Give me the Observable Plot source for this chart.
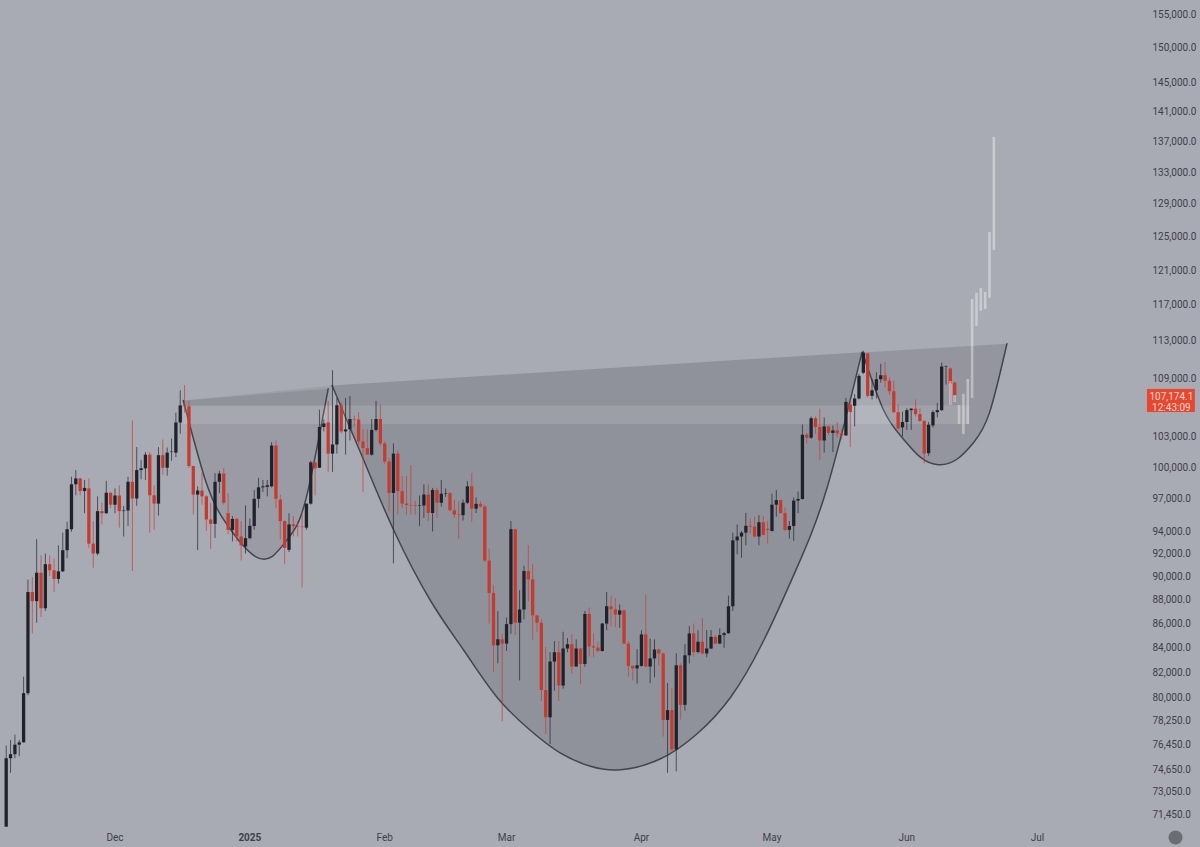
<!DOCTYPE html>
<html><head><meta charset="utf-8">
<style>html,body{margin:0;padding:0;background:#a9abb4}svg{display:block}</style>
<script src="https://cdn.jsdelivr.net/npm/d3@7"></script>
<script src="https://cdn.jsdelivr.net/npm/@observablehq/plot@0.6"></script>
</head><body><div id="chart"></div>
<script>
const firstBar = Date.UTC(2024, 10, 6);
const opens = [
70620,75450,75750,76450,76620,80350,88610,87830,90280,87230,
91030,90500,89740,90400,92270,94160,98340,98900,97700,97950,
92850,91970,95820,95630,97540,96420,97280,95820,95880,98580,
97000,99700,99870,101200,97300,96520,101150,99930,101450,101400,
104400,106130,106050,100100,97370,97750,97200,95050,94650,98580,
99370,95630,94100,95100,93500,92600,93350,94450,96970,98050,
98100,98150,102100,96900,94900,92300,94600,94450,94400,94300,
96520,100450,99930,103950,104400,101300,102200,106150,103500,103700,
104750,104700,102500,101850,101200,103650,104750,102300,100530,97520,
101300,97700,96520,96400,96350,96300,96350,97370,95650,97800,
96600,97450,97500,95900,95500,95450,96600,98150,96050,96500,
96250,91350,88530,84160,84650,84300,85900,94160,86020,87130,
90430,89700,86630,86020,80600,78500,82850,83600,80950,83900,
84250,82450,83900,82650,86750,84080,83980,83700,85950,87400,
87150,86700,87050,84300,82500,82300,82500,85050,82450,83100,
83820,83500,78300,79050,76100,82550,79450,83350,85130,83620,
84450,83500,83900,84850,84300,85000,85150,87400,93150,93500,
93850,94470,94400,93500,94800,94200,94000,96420,96850,95630,
94100,94450,96800,96950,103170,102870,104830,103950,102600,104000,
103350,103600,103300,103100,106230,106100,106850,109540,111600,107120,
107700,108860,109280,108700,107600,105450,103900,104450,105650,105800,
105250,104550,101350,104100,105450,105650,110150,110000,108500];
const highs = [
76380,76800,77200,76800,81650,89680,89910,93250,91820,91970,
91820,91550,92700,93850,94850,99070,99700,98950,98750,98900,
94900,97200,96600,98670,97580,97950,98250,96320,99070,104600,
101950,100680,101450,101450,98250,101950,102700,101900,102800,105400,
107700,108250,106600,100100,98150,99500,97300,96600,99400,99630,
99870,97500,95350,95200,94900,96350,95150,97800,98950,98750,
98750,102430,102600,97350,94950,95630,95350,94900,95800,96520,
100600,100600,105700,104700,106600,109820,106900,106430,106900,107100,
105100,105450,103700,103700,104750,106600,106250,102500,100900,102300,
101630,99130,99130,100200,96800,97280,98340,98340,98000,98000,
98750,97950,97600,96900,96750,96900,98650,99430,97100,96750,
96400,92400,89200,87000,85100,86450,94900,94200,88780,90880,
92750,91050,86700,86300,84030,83600,84500,84500,85270,84750,
85050,84650,83950,87000,87300,85150,84500,86000,88610,88300,
88100,87550,87150,84500,82550,83850,85400,88400,84700,84650,
83900,83550,81150,80750,83500,82700,84250,85750,85950,85400,
86400,85400,85400,85000,85550,85250,88300,93850,94600,94000,
95650,95150,95300,95450,95350,94900,97450,97800,96900,96150,
94900,97100,97650,104200,103330,105000,105000,105800,104900,104100,
104100,104400,103700,106900,106750,107300,109420,111900,111700,108860,
109600,110500,110700,109030,108700,106230,105500,105850,105850,106750,
105850,104650,104450,105650,106400,110620,110300,110100,108600];
const lows = [
70620,74400,75450,75600,76620,80200,85130,86020,86500,87000,
90000,88610,89350,90350,91550,93930,97300,97300,95630,92480,
90720,91820,94600,95570,96130,95630,94300,93500,94450,90430,
96320,98820,98750,93850,94100,95400,99230,99160,100600,100960,
103270,105400,99900,95500,92280,96420,94000,92380,93370,97500,
96420,93700,93050,93050,91350,91970,93250,94100,96130,97600,
97200,98050,96130,93250,91030,92100,93500,93500,89000,94100,
96420,97280,99900,103500,99530,99530,101300,103300,101200,102600,
104000,102200,97600,101200,101100,103500,102100,100300,95800,91100,
95500,96130,95500,95500,95500,94450,95200,94900,93950,95200,
96250,97150,95800,95200,93300,94950,96500,94850,95650,96150,
91200,85950,82030,82700,78200,83700,85100,85000,81350,86300,
87830,84620,85270,79750,77250,76500,80550,79750,80700,83600,
81900,82450,81050,82450,83250,83200,83550,83650,85400,85700,
85650,85600,84250,81650,81350,81100,82450,82400,81150,81600,
82550,77050,74400,75950,74500,78330,79000,82700,83250,83500,
83450,83200,83850,84250,84250,83950,85100,87000,91900,91600,
92700,93750,93400,92700,93600,92850,93950,95300,95600,94000,
93300,93100,95650,96900,102300,102750,103270,100680,101400,103150,
101450,102900,102700,103050,101950,104000,106750,109400,106950,106750,
106850,108500,108000,107230,105350,103650,103000,103650,103650,105000,
104450,100350,101100,103900,104900,105580,108300,106250,106600];
const closes = [
75450,75750,76450,76620,80350,88610,87830,90280,87230,91030,
90500,89740,90400,92270,94160,98340,98900,97700,98000,92850,
91970,95820,95630,97540,96420,97280,95820,95880,98580,97000,
99700,99870,101200,97300,96520,101150,99930,101400,101500,104400,
106130,106050,100100,97370,97750,97200,95050,94650,98580,99370,
96600,94100,95100,93500,92700,93350,94470,96970,98050,98150,
98250,102100,96970,94900,92480,94600,94450,94400,94350,96520,
100450,99870,103950,104300,101300,102200,106150,103500,103700,104750,
104700,102500,101850,101200,103650,104750,102300,100530,97520,101300,
97700,96520,96400,96350,96300,96350,97370,95650,97800,96600,
97450,97500,95900,95500,95450,96600,98150,96050,96500,96250,
91350,88530,84160,84650,84300,85900,94160,86020,87130,90430,
89700,86630,86020,80600,78500,82850,83600,80950,83900,84250,
82450,83900,82650,86750,84080,83980,83700,85950,87400,87150,
86700,87050,84300,82500,82300,82550,85050,82450,83100,83820,
83500,78300,79050,76100,82550,79450,83350,85130,83620,84450,
83500,83900,84850,84300,85000,85150,87400,93150,93500,93850,
94470,94400,93500,94800,93650,94100,96420,96850,95630,94100,
94450,96800,96950,103170,102870,104830,103950,102600,104000,103350,
103600,103300,103100,106500,105450,106850,109210,111700,107120,107700,
108860,109280,108700,107600,105450,103800,104450,105650,105800,105250,
104550,101300,104170,105450,105650,110200,110200,108400,107170];

const ghostBars = [217,218,219,220,221,222,223,224,225,226,227];
const ghostLows = [106180,106490,104250,103240,104250,106900,114610,116320,116510,117760,123350];
const ghostHighs = [108670,107210,106180,107320,108880,117640,118360,118900,118440,125520,137600];

const cup1Bars = [40.7,45.8,49.6,53.46,57.3,61.1,65.0,68.8,74.0];
const cup1Prices = [106690,98750,95310,93180,91750,91750,93480,96860,107910];
const cup2Bars = [74.9,82.2,89.1,97.5,105.2,112.8,120.5,127.4,134.3,141.2,150.4,158.8,166.5,174.1,181.8,188.7,196.7];
const cup2Prices = [108250,100680,94090,87930,83780,80080,77540,75860,74900,74650,75450,77300,80080,84590,90810,98110,111800];
const cup3Bars = [196.8,201.7,206,210.1,214.3,218.5,222.4,226,230];
const cup3Prices = [111760,105670,102900,101000,100260,100800,102480,105450,112710];

const zoneBars = [40.7,221.5];
const zonePrices = [104250,106130];
const capBars = [40.7,74.9,74.9,40.7];
const capPrices = [106690,108250,106130,106130];

const priceTicks = [155000,150000,145000,141000,137000,133000,129000,125000,121000,117000,113000,109000,103000,100000,97000,94000,92000,90000,88000,86000,84000,82000,80000,78250,76450,74650,73050,71450];
const monthTicks = ["2024-12-01","2025-02-01","2025-03-01","2025-04-01","2025-05-01","2025-06-01","2025-07-01"];
const yearTicks = ["2025-01-01"];
const badgeBars = [262.3,273.3];
const badgePrices = [105460,107840];
const badgeTextBar = 267.8;
const badgeLines = [["107,174.1",107110],["12:43:09",105975]];

const barDate = n => new Date(firstBar + n * 864e5);
const candles = opens.map((o,i)=>({date:barDate(i),o,h:highs[i],l:lows[i],c:closes[i],up:closes[i]>=o}));
const ghosts = ghostBars.map((b,i)=>({date:barDate(b),lo:ghostLows[i],hi:ghostHighs[i]}));
const pts = (bars,prices)=>bars.map((b,i)=>({date:barDate(b),p:prices[i]}));
const UP="#20222b", DOWN="#c53b2f", INK="#3c3f47";
const font="Roboto, 'Noto Sans', sans-serif";

const cup=(b,p,op)=>Plot.line(pts(b,p),{x:"date",y:"p",curve:"natural",fill:"#3f4148",fillOpacity:op,stroke:"#43454d",strokeWidth:1.5});

const plot = Plot.plot({
  width:1200,height:847,
  marginTop:0,marginRight:48,marginBottom:18,marginLeft:0,
  style:{background:"#a9abb4",fontFamily:font},
  x:{type:"utc",domain:[barDate(-1.31),barDate(263.46)]},
  y:{type:"log",domain:[70462,157086],range:[829,0]},
  marks:[
    cup(cup1Bars,cup1Prices,0.14),
    cup(cup2Bars,cup2Prices,0.24),
    cup(cup3Bars,cup3Prices,0.20),
    Plot.line(pts(capBars,capPrices),{x:"date",y:"p",fill:"#3f4148",fillOpacity:0.10,stroke:"none"}),
    Plot.rect([0],{x1:()=>barDate(zoneBars[0]),x2:()=>barDate(zoneBars[1]),y1:()=>zonePrices[0],y2:()=>zonePrices[1],fill:"#fff",fillOpacity:0.12}),
    Plot.ruleX(candles,{x:"date",y1:"l",y2:"h",stroke:d=>d.up?UP:DOWN,strokeOpacity:0.68,strokeWidth:1}),
    Plot.ruleX(candles,{x:"date",y1:"o",y2:"c",stroke:d=>d.up?UP:DOWN,strokeWidth:3.3}),
    Plot.ruleX(ghosts,{x:"date",y1:"lo",y2:"hi",stroke:"#fff",strokeOpacity:0.38,strokeWidth:2.6}),
    Plot.axisY({anchor:"right",ticks:priceTicks,tickFormat:d3.format(",.1f"),tickSize:0,tickPadding:0,textAnchor:"start",label:null,fontSize:10,fill:INK}),
    Plot.axisX({ticks:monthTicks.map(d=>new Date(d)),tickFormat:d3.utcFormat("%b"),tickSize:0,tickPadding:4,label:null,fontSize:10,fill:INK}),
    Plot.axisX({ticks:yearTicks.map(d=>new Date(d)),tickFormat:d3.utcFormat("%Y"),tickSize:0,tickPadding:4,label:null,fontSize:10,fontWeight:"bold",fill:INK}),
    Plot.rect([0],{x1:()=>barDate(badgeBars[0]),x2:()=>barDate(badgeBars[1]),y1:()=>badgePrices[0],y2:()=>badgePrices[1],fill:"#e8472f"}),
    Plot.text(badgeLines,{x:()=>barDate(badgeTextBar),y:d=>d[1],text:d=>d[0],fill:"#f7d9d0",fontSize:10}),
    Plot.dot([0],{frameAnchor:"bottom-right",dx:23,dy:8,r:7,fill:"#6b6d75"})
  ]
});
document.getElementById("chart").append(plot);
</script></body></html>
